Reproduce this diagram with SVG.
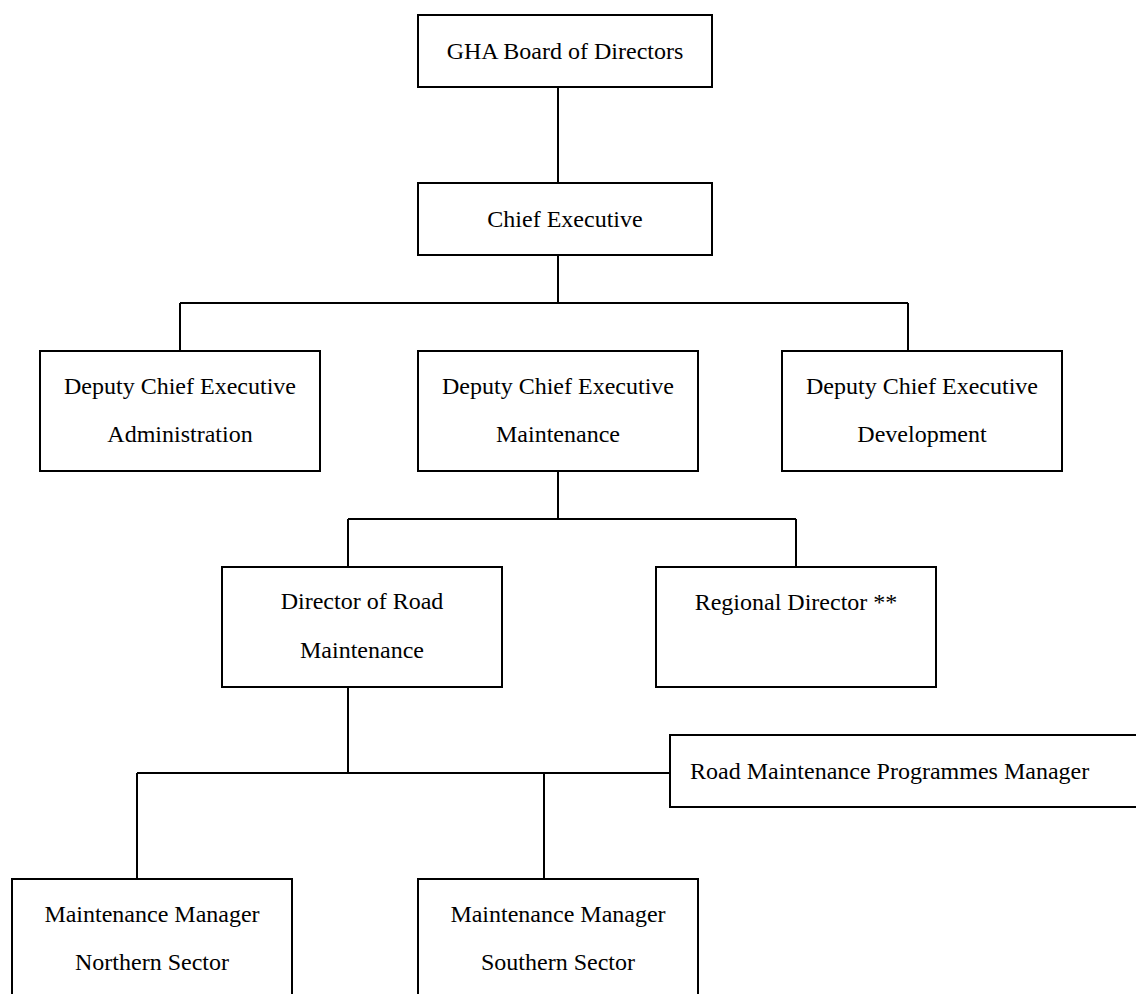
<svg xmlns="http://www.w3.org/2000/svg" width="1136" height="994" viewBox="0 0 1136 994">
<style>
.box{fill:#fff;stroke:#000;stroke-width:2}
.t{font-family:"Liberation Serif","Times New Roman",serif;font-size:24px;fill:#000;text-anchor:middle}
.l{fill:none;stroke:#000;stroke-width:2}
</style>
<rect width="1136" height="994" fill="#fff"/>
<g id="connectors">
<path class="l" d="M558 87V183"/>
<path class="l" d="M558 255V303M180 303H908M180 303V351M908 303V357"/>
<path class="l" d="M558 471V519M348 519H796M348 519V567M796 519V567"/>
<path class="l" d="M348 687V773M137 773H670M137 773V879M544 773V879"/>
</g>
<g id="board"><rect class="box" x="418" y="15" width="294" height="72"/><text class="t" x="565" y="59">GHA Board of Directors</text></g>
<g id="chief"><rect class="box" x="418" y="183" width="294" height="72"/><text class="t" x="565" y="227">Chief Executive</text></g>
<g id="dce-admin"><rect class="box" x="40" y="351" width="280" height="120"/><text class="t" x="180" y="394">Deputy Chief Executive</text><text class="t" x="180" y="442">Administration</text></g>
<g id="dce-maint"><rect class="box" x="418" y="351" width="280" height="120"/><text class="t" x="558" y="394">Deputy Chief Executive</text><text class="t" x="558" y="442">Maintenance</text></g>
<g id="dce-dev"><rect class="box" x="782" y="351" width="280" height="120"/><text class="t" x="922" y="394">Deputy Chief Executive</text><text class="t" x="922" y="442">Development</text></g>
<g id="dir-road"><rect class="box" x="222" y="567" width="280" height="120"/><text class="t" x="362" y="609">Director of Road</text><text class="t" x="362" y="658">Maintenance</text></g>
<g id="regional"><rect class="box" x="656" y="567" width="280" height="120"/><text class="t" x="796" y="610">Regional Director **</text></g>
<g id="rmp-manager"><rect class="box" x="670" y="735" width="472" height="72"/><text class="t" x="690" y="779" style="text-anchor:start">Road Maintenance Programmes Manager</text></g>
<g id="mm-north"><rect class="box" x="12" y="879" width="280" height="130"/><text class="t" x="152" y="922">Maintenance Manager</text><text class="t" x="152" y="970">Northern Sector</text></g>
<g id="mm-south"><rect class="box" x="418" y="879" width="280" height="130"/><text class="t" x="558" y="922">Maintenance Manager</text><text class="t" x="558" y="970">Southern Sector</text></g>
</svg>
